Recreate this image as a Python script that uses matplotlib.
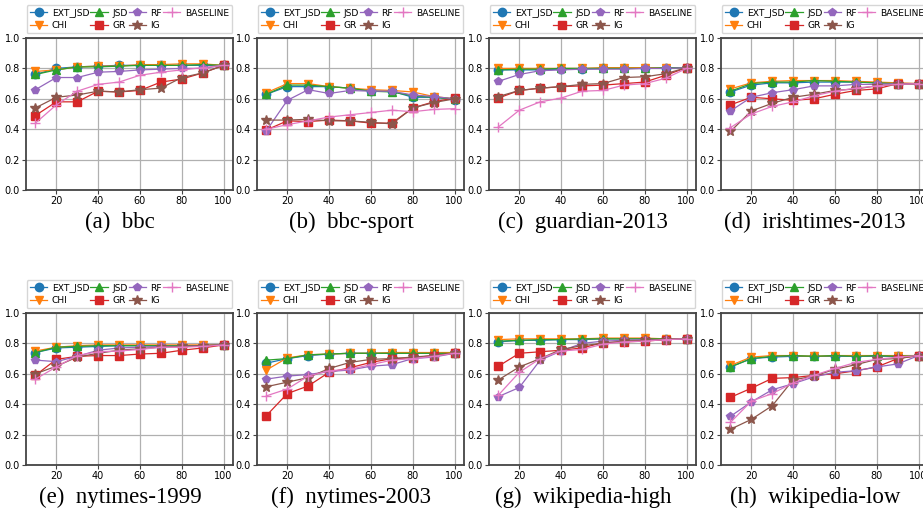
#!/usr/bin/env python3
"""Feature selection comparison: accuracy vs. percentage of features, 8 datasets."""

import matplotlib
matplotlib.use("Agg")
import matplotlib.pyplot as plt

x_vals = [10, 20, 30, 40, 50, 60, 70, 80, 90, 100]
methods = ["EXT_JSD", "CHI", "JSD", "GR", "RF", "IG", "BASELINE"]
captions = ["(a)  bbc", "(b)  bbc-sport", "(c)  guardian-2013", "(d)  irishtimes-2013",
            "(e)  nytimes-1999", "(f)  nytimes-2003", "(g)  wikipedia-high", "(h)  wikipedia-low"]

bbc = {
    "EXT_JSD": [0.76, 0.80, 0.81, 0.815, 0.82, 0.82, 0.82, 0.82, 0.82, 0.82],
    "CHI": [0.78, 0.79, 0.81, 0.815, 0.815, 0.825, 0.825, 0.83, 0.83, 0.82],
    "JSD": [0.76, 0.79, 0.81, 0.81, 0.815, 0.82, 0.82, 0.82, 0.825, 0.82],
    "GR": [0.49, 0.58, 0.58, 0.65, 0.645, 0.655, 0.71, 0.73, 0.77, 0.82],
    "RF": [0.66, 0.74, 0.74, 0.775, 0.78, 0.79, 0.795, 0.80, 0.80, 0.82],
    "IG": [0.54, 0.61, 0.625, 0.65, 0.645, 0.66, 0.67, 0.74, 0.77, 0.82],
    "BASELINE": [0.44, 0.56, 0.65, 0.695, 0.71, 0.755, 0.775, 0.79, 0.805, 0.82],
}
bbc_sport = {
    "EXT_JSD": [0.63, 0.68, 0.68, 0.68, 0.67, 0.65, 0.65, 0.61, 0.61, 0.595],
    "CHI": [0.64, 0.70, 0.70, 0.68, 0.67, 0.66, 0.655, 0.645, 0.615, 0.60],
    "JSD": [0.63, 0.69, 0.69, 0.68, 0.67, 0.65, 0.645, 0.62, 0.61, 0.60],
    "GR": [0.395, 0.455, 0.45, 0.46, 0.455, 0.44, 0.44, 0.54, 0.58, 0.605],
    "RF": [0.39, 0.59, 0.66, 0.635, 0.655, 0.65, 0.65, 0.625, 0.615, 0.60],
    "IG": [0.46, 0.46, 0.465, 0.455, 0.455, 0.445, 0.435, 0.54, 0.575, 0.60],
    "BASELINE": [0.40, 0.43, 0.455, 0.48, 0.495, 0.51, 0.525, 0.515, 0.53, 0.535],
}
guardian_2013 = {
    "EXT_JSD": [0.79, 0.79, 0.79, 0.795, 0.795, 0.80, 0.80, 0.80, 0.80, 0.805],
    "CHI": [0.80, 0.80, 0.80, 0.80, 0.80, 0.805, 0.805, 0.805, 0.805, 0.805],
    "JSD": [0.79, 0.795, 0.795, 0.80, 0.80, 0.80, 0.80, 0.80, 0.805, 0.805],
    "GR": [0.605, 0.655, 0.67, 0.68, 0.685, 0.69, 0.70, 0.71, 0.755, 0.805],
    "RF": [0.715, 0.76, 0.785, 0.79, 0.795, 0.795, 0.795, 0.80, 0.80, 0.805],
    "IG": [0.615, 0.655, 0.67, 0.68, 0.695, 0.70, 0.74, 0.745, 0.765, 0.805],
    "BASELINE": [0.415, 0.525, 0.58, 0.605, 0.65, 0.655, 0.69, 0.70, 0.735, 0.80],
}
irishtimes_2013 = {
    "EXT_JSD": [0.645, 0.69, 0.705, 0.705, 0.71, 0.71, 0.71, 0.705, 0.70, 0.70],
    "CHI": [0.665, 0.705, 0.715, 0.72, 0.72, 0.72, 0.715, 0.71, 0.705, 0.70],
    "JSD": [0.65, 0.70, 0.71, 0.71, 0.72, 0.715, 0.71, 0.705, 0.70, 0.70],
    "GR": [0.56, 0.61, 0.60, 0.59, 0.60, 0.63, 0.655, 0.665, 0.70, 0.70],
    "RF": [0.52, 0.61, 0.64, 0.66, 0.685, 0.685, 0.695, 0.695, 0.70, 0.70],
    "IG": [0.385, 0.52, 0.57, 0.61, 0.63, 0.655, 0.665, 0.685, 0.695, 0.70],
    "BASELINE": [0.41, 0.50, 0.55, 0.58, 0.62, 0.65, 0.67, 0.685, 0.695, 0.70],
}
nytimes_1999 = {
    "EXT_JSD": [0.74, 0.77, 0.775, 0.78, 0.785, 0.785, 0.785, 0.785, 0.785, 0.79],
    "CHI": [0.75, 0.775, 0.785, 0.79, 0.79, 0.79, 0.79, 0.79, 0.79, 0.79],
    "JSD": [0.74, 0.775, 0.78, 0.785, 0.785, 0.785, 0.785, 0.785, 0.785, 0.79],
    "GR": [0.59, 0.695, 0.715, 0.72, 0.72, 0.73, 0.735, 0.755, 0.77, 0.79],
    "RF": [0.69, 0.68, 0.715, 0.755, 0.77, 0.775, 0.78, 0.78, 0.785, 0.79],
    "IG": [0.60, 0.65, 0.71, 0.735, 0.755, 0.765, 0.775, 0.78, 0.785, 0.79],
    "BASELINE": [0.565, 0.645, 0.72, 0.745, 0.75, 0.76, 0.775, 0.775, 0.78, 0.79],
}
nytimes_2003 = {
    "EXT_JSD": [0.67, 0.70, 0.72, 0.73, 0.735, 0.735, 0.735, 0.735, 0.735, 0.735],
    "CHI": [0.625, 0.705, 0.725, 0.73, 0.735, 0.735, 0.74, 0.74, 0.74, 0.74],
    "JSD": [0.69, 0.70, 0.725, 0.73, 0.735, 0.735, 0.735, 0.735, 0.735, 0.735],
    "GR": [0.325, 0.47, 0.52, 0.61, 0.64, 0.675, 0.70, 0.705, 0.72, 0.735],
    "RF": [0.565, 0.585, 0.595, 0.615, 0.625, 0.65, 0.66, 0.70, 0.71, 0.735],
    "IG": [0.515, 0.545, 0.575, 0.635, 0.675, 0.695, 0.70, 0.71, 0.72, 0.735],
    "BASELINE": [0.455, 0.50, 0.585, 0.62, 0.63, 0.66, 0.69, 0.70, 0.715, 0.735],
}
wikipedia_high = {
    "EXT_JSD": [0.81, 0.82, 0.82, 0.825, 0.825, 0.83, 0.83, 0.83, 0.83, 0.83],
    "CHI": [0.825, 0.83, 0.83, 0.83, 0.83, 0.835, 0.835, 0.835, 0.83, 0.83],
    "JSD": [0.815, 0.82, 0.825, 0.825, 0.83, 0.83, 0.83, 0.83, 0.83, 0.83],
    "GR": [0.65, 0.735, 0.745, 0.755, 0.77, 0.805, 0.81, 0.815, 0.825, 0.83],
    "RF": [0.45, 0.51, 0.69, 0.75, 0.80, 0.815, 0.82, 0.825, 0.825, 0.83],
    "IG": [0.56, 0.645, 0.70, 0.76, 0.785, 0.80, 0.815, 0.82, 0.825, 0.83],
    "BASELINE": [0.46, 0.61, 0.70, 0.75, 0.76, 0.795, 0.81, 0.815, 0.825, 0.83],
}
wikipedia_low = {
    "EXT_JSD": [0.645, 0.70, 0.71, 0.715, 0.715, 0.715, 0.715, 0.715, 0.715, 0.72],
    "CHI": [0.655, 0.71, 0.72, 0.72, 0.715, 0.72, 0.72, 0.72, 0.72, 0.72],
    "JSD": [0.645, 0.70, 0.715, 0.72, 0.715, 0.72, 0.715, 0.72, 0.715, 0.72],
    "GR": [0.445, 0.505, 0.57, 0.575, 0.59, 0.60, 0.62, 0.645, 0.70, 0.72],
    "RF": [0.32, 0.415, 0.495, 0.535, 0.58, 0.61, 0.62, 0.645, 0.665, 0.72],
    "IG": [0.235, 0.30, 0.39, 0.56, 0.585, 0.63, 0.66, 0.695, 0.70, 0.72],
    "BASELINE": [0.28, 0.42, 0.47, 0.54, 0.59, 0.635, 0.675, 0.695, 0.71, 0.72],
}

datasets = [bbc, bbc_sport, guardian_2013, irishtimes_2013,
            nytimes_1999, nytimes_2003, wikipedia_high, wikipedia_low]

styles = {
    "EXT_JSD": ("#1f77b4", "o"),
    "CHI": ("#ff7f0e", "v"),
    "JSD": ("#2ca02c", "^"),
    "GR": ("#d62728", "s"),
    "RF": ("#9467bd", "p"),
    "IG": ("#8c564b", "*"),
    "BASELINE": ("#e377c2", "+"),
}

W, H = 923, 513
fig = plt.figure(figsize=(W / 100, H / 100), dpi=100)

col_left = [26, 257, 489, 721]
row_top = [38, 313]
ax_w, ax_h = 207, 152

for i, data in enumerate(datasets):
    r, c = divmod(i, 4)
    left = col_left[c] / W
    bottom = 1 - (row_top[r] + ax_h) / H
    ax = fig.add_axes([left, bottom, ax_w / W, ax_h / H])
    for m in methods:
        color, marker = styles[m]
        ms = 7.5 if marker in ("*", "+") else 6
        ax.plot(x_vals, data[m], color=color, marker=marker, markersize=ms,
                linewidth=0.9, label=m)
    ax.set_ylim(0, 1.0)
    ax.set_yticks([0.0, 0.2, 0.4, 0.6, 0.8, 1.0])
    ax.set_xticks([20, 40, 60, 80, 100])
    ax.grid(True, color="#b0b0b0", linewidth=0.9)
    ax.set_axisbelow(True)
    ax.tick_params(labelsize=7, length=3, width=0.8, color="#444444", pad=1.5)
    for s in ax.spines.values():
        s.set_color("#444444")
        s.set_linewidth(1.3)
    ax.legend(loc="lower center", bbox_to_anchor=(0.5, 1.03), ncol=4, fontsize=6.6,
              columnspacing=0.1, handlelength=1.9, handletextpad=0.5,
              labelspacing=0.4, borderpad=0.35, borderaxespad=0.0)

    cx = (col_left[c] + 94) / W
    cy = 1 - (222 if r == 0 else 497) / H
    fig.text(cx, cy, captions[i], ha="center", va="center", fontsize=16.5,
             family="Liberation Serif")

fig.savefig("out.png", dpi=100)
